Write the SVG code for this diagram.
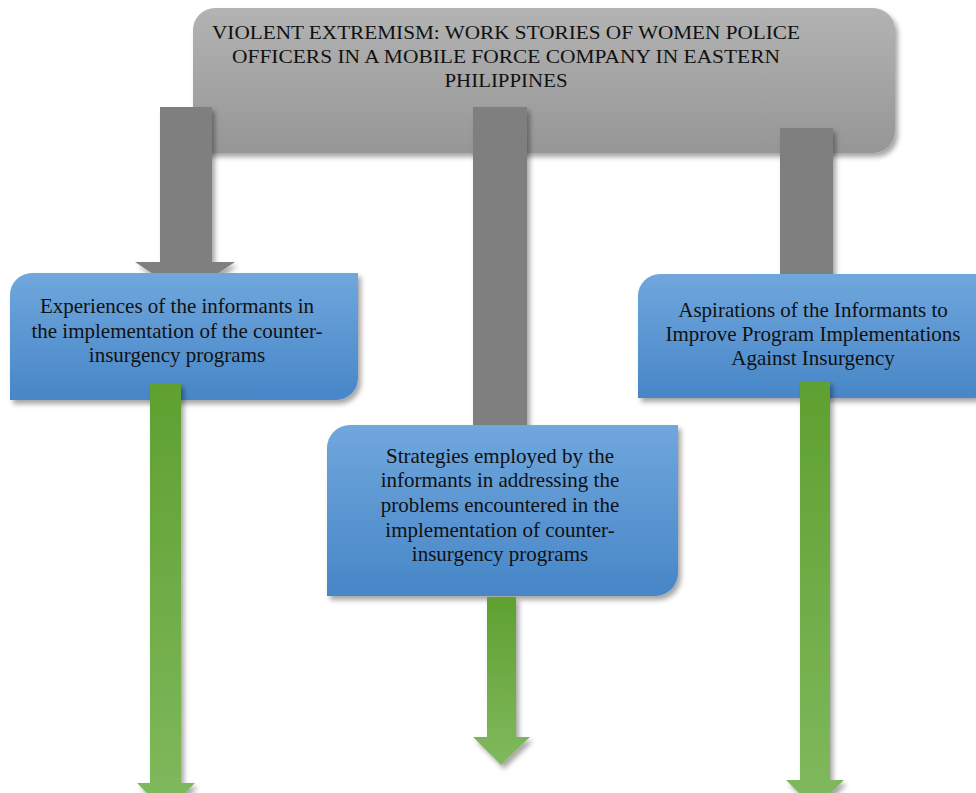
<svg xmlns="http://www.w3.org/2000/svg" width="976" height="793" viewBox="0 0 976 793">
<defs>
<linearGradient id="gGray" x1="0" y1="0" x2="0" y2="1"><stop offset="0" stop-color="#b3b3b3"/><stop offset="1" stop-color="#969696"/></linearGradient>
<linearGradient id="gBlue" x1="0" y1="0" x2="0" y2="1"><stop offset="0" stop-color="#70a7dd"/><stop offset="1" stop-color="#4786c7"/></linearGradient>
<linearGradient id="gGreen" x1="0" y1="0" x2="0" y2="1"><stop offset="0" stop-color="#5fa030"/><stop offset="1" stop-color="#80b95e"/></linearGradient>
<filter id="sh" x="-20%" y="-20%" width="140%" height="140%"><feDropShadow dx="3" dy="4" stdDeviation="2.5" flood-color="#000" flood-opacity="0.35"/></filter>
</defs>
<style>
.t{font-family:"Liberation Serif","Times New Roman",serif;fill:#111;text-anchor:middle}
.title{font-size:18px}
.lbl{font-size:21px}
.gray{fill:#7f7f7f;filter:url(#sh)}
.green{fill:url(#gGreen);filter:url(#sh)}
.box{fill:url(#gBlue);filter:url(#sh)}
</style>
<rect width="976" height="793" fill="#fff"/>
<g id="title">
<path d="M215,8 H873 A22,22 0 0 1 895,30 V131 A22,22 0 0 1 873,153 H193 V30 A22,22 0 0 1 215,8 Z" fill="url(#gGray)" filter="url(#sh)"/>
<text class="t title" x="506" y="39" textLength="588" lengthAdjust="spacingAndGlyphs">VIOLENT EXTREMISM: WORK STORIES OF WOMEN POLICE</text>
<text class="t title" x="506" y="63" textLength="548" lengthAdjust="spacingAndGlyphs">OFFICERS IN A MOBILE FORCE COMPANY IN EASTERN</text>
<text class="t title" x="506" y="87" textLength="123" lengthAdjust="spacingAndGlyphs">PHILIPPINES</text>
</g>
<g id="connectors-gray">
<path class="gray" d="M160,107 H212 V262 H235 L185,295 L135,262 H160 Z"/>
<rect class="gray" x="473" y="107" width="54" height="320"/>
<rect class="gray" x="780" y="128" width="53" height="147"/>
</g>
<g id="node-experiences">
<path class="box" d="M32,273 H358 V378 A22,22 0 0 1 336,400 H10 V295 A22,22 0 0 1 32,273 Z"/>
<text class="t lbl" x="177" y="313">Experiences of the informants in</text>
<text class="t lbl" x="177" y="338">the implementation of the counter-</text>
<text class="t lbl" x="177" y="362">insurgency programs</text>
</g>
<g id="node-aspirations">
<path class="box" d="M660,274 H976 V398 H638 V296 A22,22 0 0 1 660,274 Z"/>
<text class="t lbl" x="813" y="317">Aspirations of the Informants to</text>
<text class="t lbl" x="813" y="341">Improve Program Implementations</text>
<text class="t lbl" x="813" y="365">Against Insurgency</text>
</g>
<g id="node-strategies">
<path class="box" d="M350,425 H678 V573 A23,23 0 0 1 655,596 H327 V448 A23,23 0 0 1 350,425 Z"/>
<text class="t lbl" x="500" y="463">Strategies employed by the</text>
<text class="t lbl" x="500" y="487">informants in addressing the</text>
<text class="t lbl" x="500" y="512">problems encountered in the</text>
<text class="t lbl" x="500" y="537">implementation of counter-</text>
<text class="t lbl" x="500" y="561">insurgency programs</text>
</g>
<g id="connectors-green">
<path class="green" d="M150,383 H181 V783 H195 L166,812 L137,783 H150 Z"/>
<path class="green" d="M487,597 H516 V737 H530 L501,765 L473,737 H487 Z"/>
<path class="green" d="M800,381 H830 V780 H844 L815,809 L786,780 H800 Z"/>
</g>
</svg>
